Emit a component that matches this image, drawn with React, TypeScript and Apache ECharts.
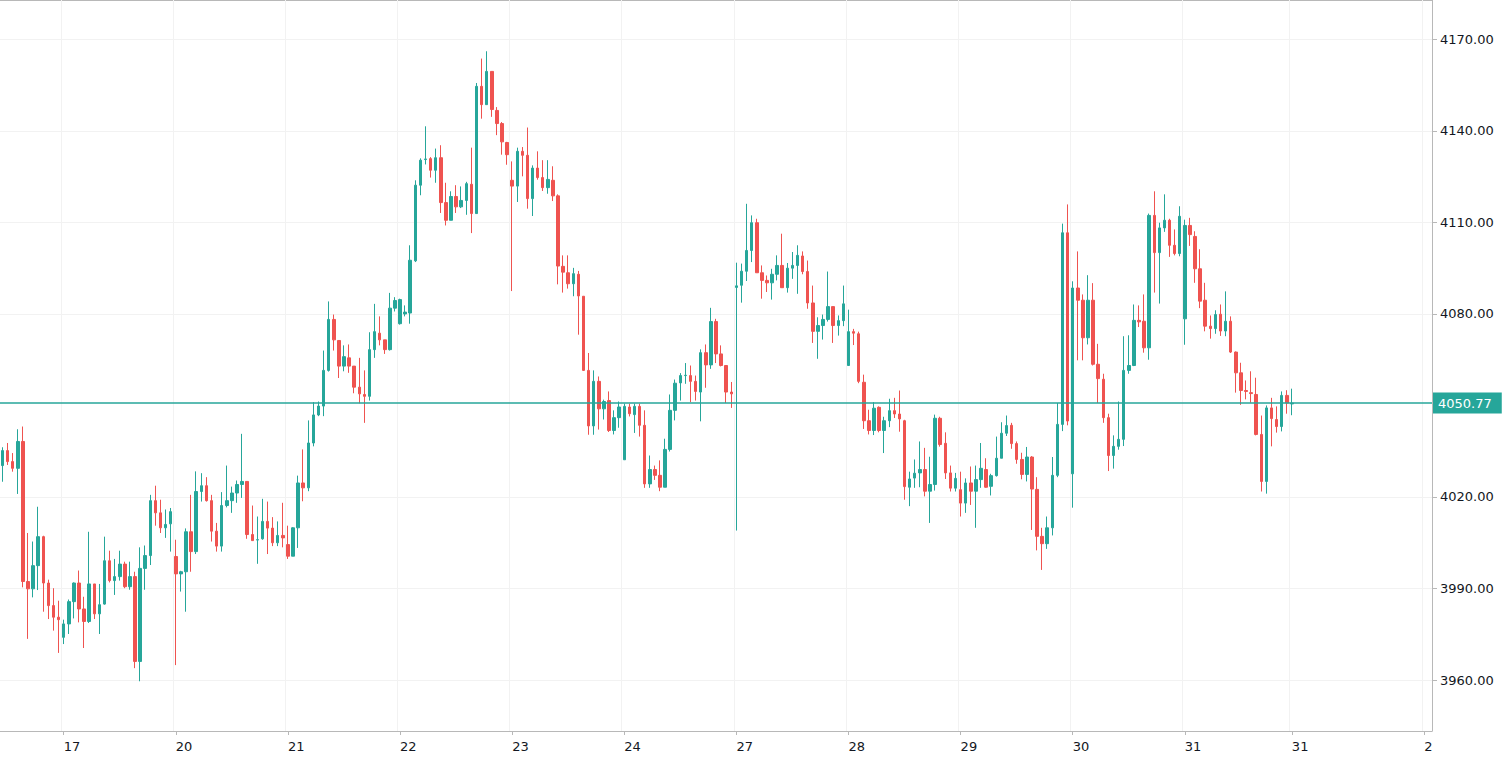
import React, { useEffect, useRef } from 'react';
import * as echarts from 'echarts';

// x-axis day labels and the candle index where each one sits
const dayLabels = ['17', '20', '21', '22', '23', '24', '27', '28', '29', '30', '31', '31', '2'];
const dayTickIndex = [12, 34, 56, 78, 100, 122, 144, 166, 188, 210, 232, 253, 279];
const categoryCount = 281;

// price axis labels
const priceTicks = [3960, 3990, 4020, 4080, 4110, 4140, 4170];
const lastPrice = 4050.77;

const opens = [
  4030.3, 4035.2, 4031.6, 4029.4, 4038.2, 3992.3, 3989.9, 3997.5, 4007.0, 3991.8,
  3984.4, 3980.6, 3974.0, 3978.4, 3985.7, 3991.8, 3983.3, 3979.2, 3991.5, 3981.7,
  3984.9, 3999.1, 3992.6, 3993.9, 3998.0, 3990.6, 3993.9, 3966.1, 3996.6, 4000.8,
  4018.8, 4014.8, 4009.9, 4011.2, 4000.5, 3994.8, 3995.5, 4008.6, 4002.1, 4021.8,
  4023.7, 4018.8, 4008.8, 4003.9, 4017.2, 4018.8, 4021.3, 4024.1, 4025.1, 4007.7,
  4005.9, 4006.3, 4012.0, 4009.8, 4005.0, 4007.4, 4004.4, 4000.6, 4009.9, 4024.6,
  4023.0, 4037.7, 4046.9, 4049.8, 4061.5, 4078.2, 4071.3, 4062.9, 4065.6, 4062.9,
  4056.0, 4053.6, 4053.0, 4068.3, 4073.7, 4071.5, 4068.3, 4081.9, 4076.8, 4080.0,
  4080.3, 4097.4, 4122.2, 4130.6, 4130.9, 4127.1, 4131.2, 4116.5, 4110.7, 4118.5,
  4115.1, 4117.2, 4122.5, 4112.9, 4154.6, 4148.6, 4159.5, 4146.7, 4142.4, 4136.2,
  4123.8, 4121.9, 4133.3, 4132.0, 4117.8, 4127.8, 4124.7, 4121.4, 4123.8, 4118.7,
  4095.6, 4093.5, 4089.9, 4093.0, 4085.8, 4061.5, 4043.3, 4057.9, 4048.9, 4051.6,
  4041.8, 4046.0, 4032.2, 4049.5, 4047.0, 4049.7, 4043.5, 4024.3, 4029.0, 4027.1,
  4023.2, 4035.6, 4048.4, 4057.4, 4059.8, 4059.8, 4057.9, 4054.4, 4067.3, 4063.3,
  4077.5, 4066.9, 4063.1, 4054.4, 4088.7, 4089.4, 4094.0, 4100.8, 4109.9, 4093.5,
  4091.0, 4090.2, 4093.0, 4095.9, 4088.6, 4095.0, 4095.9, 4099.0, 4093.9, 4083.6,
  4074.3, 4076.2, 4078.2, 4082.4, 4076.2, 4077.8, 4063.1, 4074.2, 4073.5, 4057.6,
  4045.0, 4041.8, 4049.4, 4041.8, 4045.0, 4048.3, 4047.2, 4045.0, 4023.2, 4026.2,
  4027.9, 4029.0, 4021.9, 4024.1, 4045.8, 4037.6, 4027.9, 4022.9, 4022.4, 4018.0,
  4024.6, 4021.9, 4025.7, 4029.0, 4023.5, 4027.0, 4032.7, 4040.9, 4043.5, 4037.5,
  4032.3, 4027.4, 4033.1, 4022.5, 4007.1, 4004.7, 4009.9, 4027.1, 4043.8, 4106.6,
  4027.6, 4088.5, 4084.5, 4072.2, 4084.5, 4063.5, 4058.6, 4046.0, 4033.6, 4036.6,
  4038.9, 4061.5, 4063.1, 4077.9, 4077.6, 4068.9, 4112.3, 4100.1, 4108.2, 4110.7,
  4102.5, 4099.8, 4078.4, 4109.0, 4105.4, 4094.8, 4084.5, 4076.0, 4075.2, 4079.9,
  4074.4, 4077.6, 4067.5, 4060.7, 4054.9, 4054.2, 4053.6, 4040.5, 4025.1, 4049.2,
  4045.4, 4043.1, 4053.3, 4050.5,
];

const closes = [
  4035.2, 4031.6, 4029.4, 4038.2, 3992.3, 3989.9, 3997.5, 4007.0, 3991.8, 3984.4,
  3980.6, 3979.8, 3978.4, 3985.7, 3991.8, 3983.3, 3979.2, 3991.5, 3981.7, 3984.7,
  3999.1, 3992.6, 3993.9, 3998.0, 3990.6, 3993.9, 3966.1, 3996.6, 4000.8, 4018.8,
  4014.8, 4009.9, 4011.0, 4015.2, 3994.8, 3995.5, 4008.6, 4002.1, 4021.8, 4023.7,
  4018.8, 4008.8, 4003.9, 4017.2, 4018.8, 4021.3, 4024.1, 4025.1, 4007.7, 4005.7,
  4006.0, 4012.0, 4009.8, 4005.0, 4007.4, 4006.6, 4000.6, 4009.9, 4024.6, 4023.0,
  4037.7, 4046.9, 4049.8, 4061.5, 4078.2, 4071.5, 4062.9, 4066.0, 4062.9, 4056.0,
  4053.8, 4053.0, 4068.3, 4074.2, 4071.5, 4068.3, 4081.9, 4084.4, 4084.7, 4080.6,
  4097.6, 4122.2, 4130.4, 4130.8, 4127.1, 4131.2, 4116.5, 4110.7, 4118.5, 4115.1,
  4117.2, 4122.7, 4112.9, 4154.6, 4148.6, 4159.5, 4147.0, 4142.4, 4136.4, 4132.2,
  4121.9, 4133.3, 4132.0, 4117.8, 4127.8, 4124.7, 4121.4, 4124.1, 4118.7, 4095.7,
  4093.7, 4089.9, 4093.2, 4085.9, 4061.5, 4043.3, 4057.9, 4048.9, 4051.3, 4041.8,
  4046.0, 4049.5, 4049.7, 4047.3, 4049.7, 4043.5, 4024.3, 4029.0, 4027.1, 4023.2,
  4035.6, 4048.4, 4057.3, 4059.8, 4059.9, 4057.9, 4054.6, 4067.3, 4063.3, 4077.5,
  4066.9, 4063.1, 4054.4, 4053.8, 4089.2, 4094.0, 4100.8, 4109.9, 4093.5, 4091.0,
  4090.2, 4093.0, 4095.9, 4088.6, 4095.0, 4095.9, 4099.2, 4093.9, 4083.6, 4074.3,
  4076.2, 4078.2, 4082.4, 4076.2, 4077.8, 4083.3, 4074.2, 4073.7, 4057.9, 4045.0,
  4041.8, 4049.1, 4041.8, 4045.0, 4048.3, 4047.2, 4045.6, 4023.4, 4025.9, 4027.8,
  4029.0, 4021.9, 4024.1, 4045.8, 4037.2, 4027.9, 4022.9, 4026.1, 4018.0, 4024.6,
  4021.9, 4025.7, 4029.4, 4023.2, 4027.0, 4032.7, 4040.9, 4043.4, 4037.5, 4032.3,
  4027.4, 4033.1, 4022.6, 4007.1, 4004.7, 4009.9, 4027.1, 4043.8, 4106.6, 4044.9,
  4088.5, 4084.5, 4072.2, 4084.5, 4063.5, 4058.8, 4046.0, 4033.6, 4036.6, 4038.9,
  4061.5, 4063.1, 4077.9, 4077.4, 4068.9, 4112.3, 4100.1, 4108.2, 4110.7, 4102.5,
  4099.8, 4112.0, 4109.0, 4106.0, 4094.8, 4084.2, 4076.0, 4075.2, 4079.8, 4074.4,
  4077.6, 4067.5, 4060.7, 4054.9, 4054.6, 4053.9, 4040.5, 4025.1, 4049.2, 4045.7,
  4043.1, 4053.3, 4050.8, 4050.77,
];

const lows = [
  4025.0, 4030.5, 4028.3, 4021.0, 3990.4, 3973.5, 3987.1, 3989.5, 3982.4, 3980.0,
  3976.2, 3968.9, 3971.8, 3975.1, 3980.2, 3978.9, 3970.5, 3978.7, 3980.0, 3975.1,
  3984.7, 3992.0, 3987.9, 3992.6, 3990.1, 3989.6, 3963.9, 3959.6, 3989.6, 3997.7,
  4010.6, 4008.2, 4006.6, 4002.1, 3964.9, 3989.0, 3982.4, 3995.5, 4001.3, 4018.5,
  4018.5, 4005.4, 4002.1, 4002.1, 4016.6, 4014.8, 4018.1, 4019.7, 4006.3, 4005.7,
  3998.1, 4006.0, 4001.3, 4003.9, 4003.9, 4003.5, 3999.7, 4000.6, 4003.3, 4018.6,
  4021.9, 4036.6, 4046.5, 4046.5, 4061.1, 4068.0, 4059.0, 4061.2, 4060.7, 4054.0,
  4050.7, 4044.3, 4051.6, 4065.6, 4069.7, 4066.9, 4068.0, 4080.8, 4076.5, 4079.2,
  4076.8, 4097.0, 4118.9, 4129.0, 4124.7, 4123.0, 4113.1, 4109.0, 4110.7, 4113.1,
  4114.7, 4112.5, 4106.5, 4112.9, 4144.0, 4148.6, 4144.6, 4138.6, 4132.2, 4128.9,
  4087.5, 4116.7, 4125.1, 4114.5, 4112.1, 4124.0, 4120.3, 4119.4, 4117.0, 4089.7,
  4087.0, 4088.3, 4085.8, 4073.2, 4061.3, 4040.4, 4040.4, 4042.1, 4045.4, 4041.3,
  4040.5, 4042.7, 4032.2, 4046.4, 4041.0, 4039.8, 4023.0, 4023.0, 4025.6, 4021.9,
  4023.2, 4034.9, 4045.1, 4051.6, 4057.1, 4051.1, 4051.6, 4044.8, 4055.8, 4062.0,
  4063.9, 4062.8, 4050.8, 4049.2, 4009.0, 4083.7, 4090.8, 4097.0, 4093.5, 4085.0,
  4087.2, 4084.7, 4091.0, 4088.6, 4087.0, 4091.5, 4086.6, 4093.0, 4081.7, 4070.5,
  4065.3, 4071.6, 4077.5, 4070.5, 4072.9, 4076.0, 4063.1, 4069.8, 4057.3, 4042.3,
  4040.5, 4040.3, 4041.2, 4034.4, 4042.9, 4045.9, 4041.4, 4019.1, 4017.0, 4023.0,
  4023.2, 4020.2, 4011.5, 4022.1, 4036.5, 4025.9, 4021.8, 4021.8, 4013.6, 4014.8,
  4017.4, 4009.9, 4023.0, 4023.0, 4020.5, 4026.7, 4032.7, 4040.0, 4035.8, 4030.9,
  4025.8, 4025.1, 4009.2, 4002.5, 3996.1, 4003.0, 4007.4, 4026.5, 4041.6, 4043.5,
  4016.5, 4064.8, 4064.8, 4070.0, 4063.1, 4050.8, 4044.3, 4028.5, 4029.3, 4035.5,
  4036.7, 4060.4, 4062.9, 4075.7, 4067.3, 4065.0, 4087.0, 4083.4, 4106.9, 4098.7,
  4099.2, 4098.9, 4069.9, 4102.3, 4090.2, 4081.9, 4074.3, 4071.9, 4073.5, 4072.8,
  4072.7, 4067.2, 4054.2, 4050.2, 4052.0, 4050.9, 4040.2, 4021.8, 4021.1, 4036.6,
  4041.1, 4041.5, 4047.3, 4046.8,
];

const highs = [
  4036.3, 4037.7, 4034.4, 4042.2, 4043.1, 4008.2, 4005.4, 4016.8, 4007.3, 3992.9,
  3990.1, 3986.0, 3979.8, 3986.4, 3992.0, 3995.9, 3987.3, 4008.6, 3991.5, 3991.5,
  4007.0, 4002.4, 3999.7, 4002.4, 3998.8, 3998.8, 3995.5, 4003.5, 4004.1, 4020.7,
  4023.7, 4019.1, 4015.9, 4016.4, 4006.0, 3995.8, 4009.7, 4020.7, 4028.4, 4027.8,
  4026.5, 4020.7, 4011.5, 4021.6, 4030.3, 4023.4, 4025.4, 4040.7, 4025.1, 4017.2,
  4013.6, 4019.4, 4018.5, 4013.4, 4012.0, 4018.1, 4010.6, 4010.1, 4027.0, 4035.6,
  4045.1, 4051.1, 4051.3, 4068.0, 4084.1, 4079.8, 4071.3, 4069.7, 4070.0, 4062.9,
  4065.6, 4061.5, 4074.0, 4083.3, 4079.2, 4071.5, 4086.9, 4085.5, 4085.0, 4082.8,
  4102.5, 4123.8, 4131.0, 4141.5, 4131.4, 4134.2, 4135.3, 4123.0, 4120.2, 4122.2,
  4121.8, 4123.3, 4134.5, 4155.7, 4163.7, 4166.1, 4159.5, 4147.8, 4142.9, 4136.4,
  4130.0, 4134.5, 4134.7, 4141.1, 4128.7, 4133.3, 4130.4, 4130.4, 4128.4, 4119.2,
  4099.2, 4099.2, 4095.1, 4094.1, 4085.8, 4067.2, 4061.5, 4059.5, 4051.9, 4054.6,
  4048.4, 4051.3, 4050.6, 4050.6, 4050.6, 4050.6, 4048.4, 4033.6, 4030.3, 4032.0,
  4039.1, 4053.6, 4058.5, 4060.6, 4063.9, 4063.1, 4059.8, 4068.4, 4070.0, 4082.0,
  4078.4, 4069.7, 4063.1, 4057.7, 4096.8, 4096.5, 4116.1, 4112.3, 4111.2, 4095.9,
  4092.6, 4094.8, 4099.2, 4106.3, 4096.7, 4100.3, 4102.5, 4100.5, 4097.5, 4089.3,
  4078.9, 4079.8, 4093.9, 4082.4, 4079.5, 4089.3, 4081.4, 4075.1, 4074.2, 4060.1,
  4048.6, 4051.1, 4049.7, 4046.3, 4052.2, 4052.5, 4054.9, 4045.3, 4028.3, 4032.3,
  4038.2, 4036.1, 4033.2, 4047.0, 4046.3, 4041.2, 4030.3, 4027.9, 4028.3, 4026.1,
  4030.0, 4030.3, 4037.7, 4032.7, 4027.6, 4039.8, 4044.5, 4046.7, 4044.3, 4038.2,
  4034.5, 4036.4, 4033.4, 4026.5, 4009.9, 4013.6, 4033.1, 4050.8, 4109.6, 4115.9,
  4090.7, 4100.5, 4086.4, 4092.7, 4090.1, 4070.2, 4060.4, 4047.3, 4040.2, 4051.3,
  4072.7, 4073.0, 4083.1, 4082.8, 4086.4, 4112.9, 4120.2, 4109.9, 4119.2, 4111.2,
  4107.7, 4115.3, 4110.9, 4111.5, 4107.1, 4101.2, 4090.2, 4079.5, 4081.2, 4083.1,
  4087.4, 4079.2, 4067.7, 4064.0, 4058.2, 4061.2, 4059.1, 4046.7, 4050.0, 4052.5,
  4049.7, 4054.6, 4055.0, 4055.5,
];

const UP = '#26a69a';
const DOWN = '#ef5350';
const AXIS = '#b8b8b8';
const GRID = '#f2f2f2';
const TEXT = '#131722';
const FONT = 'DejaVu Sans';

export default function App() {
  const ref = useRef<HTMLDivElement>(null);

  useEffect(() => {
    if (!ref.current) return;
    const chart = echarts.init(ref.current, null, { renderer: 'svg' });
    const tickSet = new Set(dayTickIndex);
    const categories = Array.from({ length: categoryCount }, (_, i) => {
      const k = dayTickIndex.indexOf(i);
      return k >= 0 ? dayLabels[k] : '';
    });
    const ohlc = opens.map((o, i) => [o, closes[i], lows[i], highs[i]]);
    const showAt = (i: number) => tickSet.has(i);

    chart.setOption({
      animation: false,
      grid: { left: 0, top: 0, right: 70, bottom: 30, containLabel: false },
      xAxis: {
        type: 'category',
        data: categories,
        boundaryGap: true,
        axisLine: { show: true, lineStyle: { color: AXIS, width: 1 } },
        axisTick: {
          show: true,
          alignWithLabel: true,
          interval: showAt,
          length: 4,
          lineStyle: { color: AXIS },
        },
        axisLabel: {
          interval: showAt,
          align: 'left',
          color: TEXT,
          fontSize: 13,
          fontFamily: FONT,
          margin: 9,
        },
        splitLine: { show: true, interval: showAt, lineStyle: { color: GRID, width: 1 } },
      },
      yAxis: {
        type: 'value',
        position: 'right',
        min: 3943.3,
        max: 4182.9,
        axisLine: { show: true, lineStyle: { color: AXIS, width: 1 } },
        axisTick: { show: true, length: 5, customValues: priceTicks, lineStyle: { color: AXIS } },
        axisLabel: {
          customValues: priceTicks,
          formatter: (v: number) => v.toFixed(2),
          color: TEXT,
          fontSize: 13,
          fontFamily: FONT,
          margin: 8,
        },
        splitLine: { show: true, lineStyle: { color: GRID, width: 1 } },
      },
      graphic: [
        {
          type: 'line',
          shape: { x1: 0, y1: 0.5, x2: 1432, y2: 0.5 },
          style: { stroke: AXIS, lineWidth: 1 },
          silent: true,
        },
      ],
      series: [
        {
          type: 'candlestick',
          data: ohlc,
          barWidth: 3,
          itemStyle: {
            color: UP,
            color0: DOWN,
            borderColor: UP,
            borderColor0: DOWN,
            borderWidth: 1,
          },
          markLine: {
            silent: true,
            symbol: ['none', 'none'],
            animation: false,
            lineStyle: { color: UP, width: 1.5, type: 'solid' },
            label: {
              show: true,
              position: 'end',
              distance: 1,
              formatter: () => lastPrice.toFixed(2),
              backgroundColor: UP,
              color: '#ffffff',
              fontSize: 13,
              fontFamily: FONT,
              padding: [4, 10, 4, 5],
            },
            emphasis: { disabled: true },
            data: [
              {
                yAxis: lastPrice,
                lineStyle: { color: UP, width: 1.5, type: 'solid' },
              },
            ],
          },
        },
      ],
    });

    return () => chart.dispose();
  }, []);

  return (
    <div
      ref={ref}
      style={{ position: 'fixed', left: 0, top: 0, width: 1502, height: 761, background: '#ffffff' }}
    />
  );
}
